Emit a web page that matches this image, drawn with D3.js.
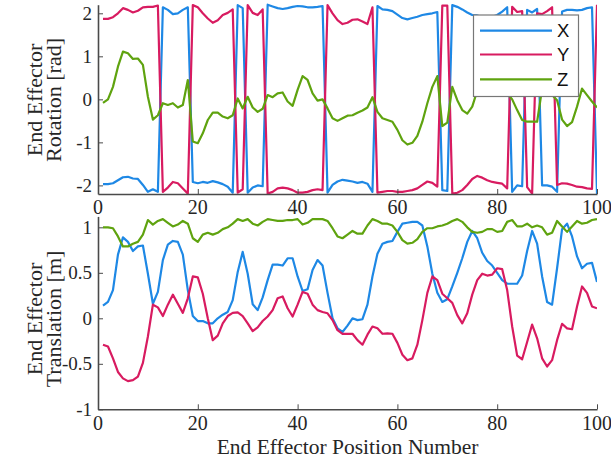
<!DOCTYPE html>
<html>
<head>
<meta charset="utf-8">
<script src="https://cdn.jsdelivr.net/npm/d3@7"></script>
<style>
  html, body { margin: 0; padding: 0; background: #fff; }
  svg { display: block; }
  .serif { font-family: "Liberation Serif", "DejaVu Serif", serif; fill: #262626; }
  .sans { font-family: "Liberation Sans", "DejaVu Sans", sans-serif; fill: #111; }
</style>
</head>
<body>
<svg id="chart" width="611" height="462"></svg>
<script>
// End effector pose per sampled position
const positions = d3.range(1, 101);
const xTicks = [0, 20, 40, 60, 80, 100];
const rotTicks = [-2, -1, 0, 1, 2];
const transTicks = [-1, -0.5, 0, 0.5, 1];
const seriesNames = ["X", "Y", "Z"];
const seriesColors = ["#1E88E5", "#D81B60", "#5FA30F"];

// Rotation [rad]
const rotX = [-1.97,-1.97,-1.95,-1.88,-1.81,-1.80,-1.84,-1.85,-1.99,-2.15,
  -2.09,-2.15,2.14,2.08,1.98,2.00,2.08,2.14,-1.92,-1.95,
  -1.92,-1.94,-1.90,-1.93,-1.97,-2.03,-2.17,2.19,2.12,-2.17,
  -2.05,-2.00,-2.02,2.20,2.16,2.12,2.10,2.12,2.15,2.17,
  2.16,2.14,2.14,2.15,2.17,-2.17,-1.99,-1.91,-1.87,-1.89,
  -1.91,-1.94,-1.92,-1.96,-2.15,2.17,2.09,2.08,2.05,1.97,
  1.89,1.86,1.89,1.92,1.96,1.98,2.00,2.03,-2.11,-2.13,
  2.19,2.15,2.09,2.02,1.96,1.95,1.92,1.90,1.92,1.96,
  2.04,2.14,-2.15,-2.00,-2.02,2.08,2.02,2.10,-2.00,-2.00,
  -2.03,-2.15,2.04,2.08,2.08,2.07,2.08,2.12,2.14,-2.20];
const rotY = [1.87,1.87,1.91,2.00,2.12,2.08,2.02,2.06,2.14,2.15,
  2.15,2.18,-2.15,-2.05,-1.92,-1.95,-2.07,-2.19,2.19,2.14,
  2.00,1.88,1.78,1.84,1.96,2.01,2.09,-2.17,-2.09,2.19,
  2.01,1.96,2.09,-2.19,-2.15,-2.07,-2.05,-2.07,-2.11,-2.17,
  -2.17,-2.15,-2.11,-2.09,-2.11,2.19,2.00,1.84,1.75,1.78,
  1.85,1.86,1.81,1.75,2.14,-2.17,-2.15,-2.13,-2.13,-2.15,
  -2.15,-2.13,-2.11,-2.07,-1.99,-1.91,-1.94,-2.03,2.18,2.18,
  -2.19,-2.17,-2.11,-1.99,-1.85,-1.78,-1.82,-1.88,-1.92,-1.94,
  -1.96,-2.07,2.15,2.03,2.05,-2.04,-2.19,2.00,1.98,2.05,
  2.14,-1.99,-1.95,-1.96,-1.99,-2.03,-2.04,-2.07,-2.08,2.20];
const rotZ = [-0.08,0.00,0.29,0.76,1.11,1.07,0.94,0.95,0.80,0.06,
  -0.47,-0.37,-0.09,-0.13,-0.09,-0.19,-0.13,0.45,-0.98,-1.02,
  -0.79,-0.48,-0.31,-0.31,-0.40,-0.44,-0.37,0.02,-0.21,0.06,
  -0.19,-0.29,-0.22,0.10,0.05,0.14,0.16,-0.05,-0.15,0.22,
  0.54,0.45,0.14,-0.03,0.00,-0.21,-0.44,-0.50,-0.44,-0.38,
  -0.37,-0.31,-0.26,-0.19,0.05,-0.29,-0.44,-0.48,-0.52,-0.71,
  -0.95,-1.05,-1.01,-0.85,-0.52,-0.09,0.29,0.54,-0.62,-0.54,
  0.29,-0.02,-0.25,-0.33,-0.17,0.20,0.35,0.55,0.40,0.30,
  0.25,0.15,0.00,-0.25,-0.48,-0.52,-0.52,-0.52,0.25,0.30,
  0.10,-0.02,-0.47,-0.62,-0.53,-0.17,0.25,0.10,-0.05,-0.19];

// Translation [m]
const transX = [0.14,0.18,0.31,0.70,0.89,0.84,0.74,0.79,0.80,0.49,
  0.16,0.29,0.64,0.81,0.85,0.84,0.70,0.31,0.025,-0.03,
  -0.03,-0.055,-0.055,0.00,0.04,0.07,0.20,0.51,0.73,0.49,
  0.155,0.09,0.23,0.42,0.59,0.59,0.58,0.66,0.66,0.46,
  0.30,0.32,0.53,0.64,0.58,0.28,0.00,-0.11,-0.15,-0.08,
  0.00,-0.02,-0.01,0.15,0.46,0.71,0.82,0.84,0.85,0.95,
  1.04,1.05,1.06,1.06,1.02,0.79,0.49,0.28,0.18,0.21,
  0.35,0.50,0.66,0.84,0.96,0.88,0.72,0.63,0.58,0.50,
  0.42,0.38,0.38,0.38,0.47,0.74,0.96,0.82,0.46,0.18,
  0.15,0.55,0.98,1.04,0.90,0.68,0.55,0.60,0.61,0.40];
const transY = [-0.29,-0.31,-0.44,-0.59,-0.66,-0.69,-0.68,-0.64,-0.49,-0.20,
  0.15,0.12,0.025,0.15,0.26,0.16,0.06,0.22,0.46,0.45,
  0.27,0.00,-0.24,-0.19,-0.055,0.025,0.06,0.065,0.025,-0.055,
  -0.14,-0.10,-0.03,0.02,0.09,0.22,0.24,0.11,0.02,0.15,
  0.29,0.27,0.15,0.09,0.07,0.055,-0.02,-0.13,-0.17,-0.17,
  -0.17,-0.24,-0.29,-0.18,-0.09,-0.11,-0.17,-0.165,-0.17,-0.27,
  -0.40,-0.46,-0.44,-0.29,-0.02,0.28,0.46,0.42,0.27,0.22,
  0.17,0.035,-0.055,0.055,0.26,0.42,0.49,0.47,0.48,0.55,
  0.54,0.31,-0.09,-0.41,-0.45,-0.26,-0.07,-0.22,-0.44,-0.53,
  -0.46,-0.24,-0.06,-0.11,-0.12,0.13,0.35,0.28,0.13,0.11];
const transZ = [1.00,1.00,0.99,0.90,0.79,0.79,0.82,0.84,0.92,1.08,
  1.03,1.07,1.09,1.05,1.01,1.03,1.07,1.04,0.88,0.84,
  0.92,0.94,0.92,0.94,0.98,1.00,1.04,1.09,1.07,1.09,
  1.04,1.02,1.06,1.09,1.08,1.07,1.07,1.08,1.08,1.09,
  1.03,1.05,1.09,1.09,1.09,1.07,0.99,0.90,0.88,0.92,
  0.96,0.93,0.93,1.02,1.09,1.07,1.04,1.04,1.02,0.95,
  0.86,0.82,0.83,0.87,0.95,0.99,0.99,1.01,1.02,1.04,
  1.07,1.09,1.06,1.00,0.95,0.94,0.95,0.98,0.98,0.95,
  0.96,1.06,1.08,1.01,1.01,1.04,1.00,1.02,1.00,0.92,
  0.94,1.07,1.01,0.95,1.01,1.07,1.04,1.05,1.08,1.09];

const svg = d3.select("#chart");
const axisColor = "#4a4a4a";

const x = d3.scaleLinear().domain([0, 100]).range([98, 597]);

const panels = [
  { id: "rot", y: d3.scaleLinear().domain([-2.2, 2.2]).range([194, 4.7]),
    ticks: rotTicks, series: [rotX, rotY, rotZ],
    label: ["End Effector", "Rotation [rad]"], labelCenter: 100, xLabelY: 214 },
  { id: "trans", y: d3.scaleLinear().domain([-1, 1.12]).range([409.3, 216.4]),
    ticks: transTicks, series: [transX, transY, transZ],
    label: ["End Effector", "Translation [m]"], labelCenter: 319, xLabelY: 430 }
];

panels.forEach(p => {
  const g = svg.append("g");
  const [yBottom, yTop] = p.y.range();

  g.append("clipPath").attr("id", "clip-" + p.id)
    .append("rect")
    .attr("x", x(0)).attr("y", yTop - 2)
    .attr("width", x(100) - x(0)).attr("height", yBottom - yTop + 2);

  // data lines: X, Y, then Z on top
  const plot = g.append("g").attr("clip-path", `url(#clip-${p.id})`);
  p.series.forEach((vals, k) => {
    const line = d3.line()
      .x((d, i) => x(positions[i]))
      .y(d => p.y(d));
    plot.append("path")
      .datum(vals)
      .attr("d", line)
      .attr("fill", "none")
      .attr("stroke", seriesColors[k])
      .attr("stroke-width", 2.2)
      .attr("stroke-linejoin", "round");
  });

  // x axis (ticks pointing inward)
  const xAxis = d3.axisBottom(x).tickValues(xTicks).tickSizeInner(-5).tickSizeOuter(0).tickFormat("");
  const gx = g.append("g").attr("transform", `translate(0,${yBottom})`).call(xAxis);
  gx.select(".domain").attr("stroke", axisColor).attr("stroke-width", 1.6);
  gx.selectAll(".tick line").attr("stroke", axisColor).attr("stroke-width", 1);
  g.selectAll(null).data(xTicks).enter().append("text")
    .attr("class", "serif")
    .attr("x", d => x(d)).attr("y", p.xLabelY)
    .attr("text-anchor", "middle")
    .style("font-size", "20px")
    .text(d => d);

  // y axis (ticks pointing inward)
  const yAxis = d3.axisLeft(p.y).tickValues(p.ticks).tickSizeInner(-5).tickSizeOuter(0).tickFormat("");
  const gy = g.append("g").attr("transform", `translate(${x(0)},0)`).call(yAxis);
  gy.select(".domain").attr("stroke", axisColor).attr("stroke-width", 1.6);
  gy.selectAll(".tick line").attr("stroke", axisColor).attr("stroke-width", 1);
  g.selectAll(null).data(p.ticks).enter().append("text")
    .attr("class", "serif")
    .attr("x", 92).attr("y", d => p.y(d) + 6.5)
    .attr("text-anchor", "end")
    .style("font-size", "19px")
    .text(d => String(d));

  // two-line y label
  const yl = g.append("text")
    .attr("class", "serif")
    .attr("transform", `translate(0,${p.labelCenter}) rotate(-90)`)
    .attr("text-anchor", "middle")
    .style("font-size", "22px");
  yl.append("tspan").attr("x", 0).attr("y", 42).text(p.label[0]);
  yl.append("tspan").attr("x", 0).attr("y", 61).text(p.label[1]);
});

// x label
svg.append("text")
  .attr("class", "serif")
  .attr("x", x(50)).attr("y", 454)
  .attr("text-anchor", "middle")
  .style("font-size", "21.5px")
  .text("End Effector Position Number");

// legend
const legend = svg.append("g");
legend.append("rect")
  .attr("x", 473.5).attr("y", 15).attr("width", 105).attr("height", 81.5)
  .attr("fill", "#fff").attr("stroke", "#777").attr("stroke-width", 1.2);
const rowY = [30.7, 54.5, 79.3];
seriesNames.forEach((name, k) => {
  legend.append("line")
    .attr("x1", 480).attr("x2", 552)
    .attr("y1", rowY[k]).attr("y2", rowY[k])
    .attr("stroke", seriesColors[k]).attr("stroke-width", 2.2);
  legend.append("text")
    .attr("class", "sans")
    .attr("x", 557).attr("y", rowY[k] + 6.5)
    .style("font-size", "18.5px")
    .text(name);
});
</script>
</body>
</html>
